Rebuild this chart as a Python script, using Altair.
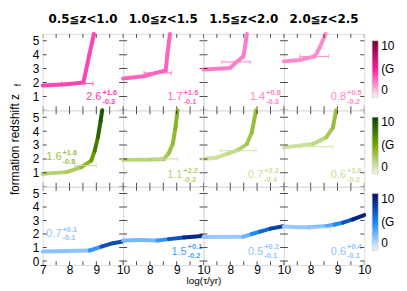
import altair as alt
import pandas as pd

# ------------------------------------------------------------------ data
col_titles = ["0.5≦z<1.0", "1.0≦z<1.5", "1.5≦z<2.0", "2.0≦z<2.5"]

# top row (pink): log(tau) , formation redshift , age (Gyr) along each curve
pink_x = [
    [7.0, 7.9, 8.52, 8.74, 8.91],
    [7.0, 7.78, 8.22, 8.59, 8.65, 8.75],
    [7.0, 8.0, 8.19, 8.49, 8.56, 8.62],
    [7.0, 7.59, 8.15, 8.33, 8.56],
]
pink_z = [
    [1.79, 1.88, 2.0, 4.0, 5.5],
    [2.29, 2.45, 2.69, 2.86, 4.0, 5.5],
    [2.93, 3.05, 3.4, 3.88, 4.7, 5.5],
    [3.52, 3.62, 3.88, 4.48, 5.5],
]
pink_age = [
    [4.0, 4.0, 4.0, 4.0, 4.0],
    [3.3, 3.3, 3.3, 3.3, 3.3, 3.3],
    [2.7, 2.7, 2.7, 2.7, 2.7, 2.7],
    [2.4, 2.4, 2.4, 2.4, 2.4],
]

# middle row (green)
green_x = [
    [7.0, 7.89, 8.44, 8.81, 8.94, 9.06, 9.16, 9.22],
    [7.0, 8.0, 8.53, 8.7, 8.85, 8.95, 9.03],
    [7.0, 7.5, 7.93, 8.3, 8.62, 8.8, 8.96],
    [7.0, 8.09, 8.58, 8.83, 8.95],
]
green_z = [
    [0.93, 1.05, 1.41, 1.88, 2.59, 3.57, 4.74, 5.5],
    [1.93, 1.95, 2.0, 2.4, 3.07, 4.2, 5.5],
    [2.0, 2.1, 2.4, 2.65, 3.07, 3.9, 5.5],
    [2.83, 3.07, 3.55, 4.26, 5.5],
]
green_age = [
    [2.5, 2.5, 3.2, 5.0, 6.5, 7.8, 8.8, 9.2],
    [2.3, 2.3, 2.6, 3.3, 3.8, 4.2, 4.4],
    [1.5, 1.5, 1.7, 2.2, 3.0, 3.6, 4.0],
    [1.5, 1.7, 2.6, 3.5, 4.0],
]

# bottom row (blue)
blue_x = [
    [7.0, 8.75, 9.19, 9.62, 9.99],
    [7.0, 7.67, 8.28, 8.7, 9.27, 9.95],
    [7.0, 8.49, 8.8, 9.11, 9.5, 9.97],
    [7.0, 7.5, 7.96, 8.6, 8.9, 9.2, 9.57, 10.0],
]
blue_z = [
    [0.71, 0.78, 1.07, 1.32, 1.44],
    [1.52, 1.56, 1.52, 1.62, 1.74, 1.85],
    [1.78, 1.8, 2.0, 2.18, 2.4, 2.57],
    [2.55, 2.5, 2.5, 2.6, 2.7, 2.84, 3.08, 3.4],
]
blue_age = [
    [2.0, 2.5, 6.0, 8.5, 6.0],
    [3.0, 2.5, 3.0, 5.5, 8.5, 9.0],
    [2.0, 2.0, 4.0, 5.5, 7.0, 8.5],
    [2.0, 2.0, 2.0, 3.0, 4.0, 5.5, 8.5, 9.5],
]

# error bars: row, col, z, low, high, age
err_row = [0, 0, 0, 0, 1, 1, 1, 1, 2]
err_col = [0, 1, 2, 3, 0, 1, 2, 3, 3]
err_z = [1.92, 2.69, 3.48, 3.88, 1.52, 2.0, 2.59, 2.88, 2.45]
err_lo = [7.7, 7.78, 7.69, 7.59, 8.2, 8.1, 7.63, 7.59, 8.0]
err_hi = [8.88, 8.8, 8.74, 8.67, 9.0, 9.03, 8.96, 8.83, 8.76]
err_age = [4.0, 3.3, 2.7, 2.4, 1.8, 1.6, 1.4, 1.4, 1.2]

# best values (Gyr) with errors
ann_main = [["2.6", "1.7", "1.4", "0.8"], ["1.6", "1.1", "0.7", "0.6"], ["0.7", "1.5", "0.5", "0.6"]]
ann_plus = [["+1.6", "+1.6", "+0.8", "+0.5"], ["+1.6", "+2.2", "+2.2", "+1.6"], ["+0.1", "+0.1", "+0.2", "+0.4"]]
ann_minus = [["-0.3", "-0.1", "-0.3", "-0.2"], ["-0.8", "-0.2", "-0.4", "-0.2"], ["-0.1", "-0.2", "-0.1", "-0.1"]]
ann_x = [[9.19, 9.22, 9.3, 9.32], [7.7, 9.21, 9.23, 9.32], [7.7, 9.37, 9.23, 9.32]]
ann_z = [[0.93, 0.93, 0.93, 0.93], [2.12, 0.81, 0.81, 0.81], [2.0, 0.69, 0.69, 0.69]]
ann_age = [[4.2, 3.3, 2.6, 2.4], [3.5, 2.5, 1.6, 1.6], [2.2, 3.8, 2.2, 2.2]]

x_ticks = [7.0, 7.5, 8.0, 8.5, 9.0, 9.5, 10.0]
y_ticks = [0, 1, 2, 3, 4, 5]
x_labels_first = [7, 8, 9, 10]
x_labels_other = [8, 9, 10]
y_labels_top = [1, 2, 3, 4, 5]
y_labels_bottom = [0, 1, 2, 3, 4, 5]
legend_values = [0, 5, 10]

# ------------------------------------------------------------------ style
FONT = "Liberation Sans"
row_x = [pink_x, green_x, blue_x]
row_z = [pink_z, green_z, blue_z]
row_age = [pink_age, green_age, blue_age]
row_colors = [
    ["#fff2f9", "#ff1a9c", "#780030"],
    ["#f3f8e4", "#78aa00", "#034203"],
    ["#eef6ff", "#1484ff", "#000c5c"],
]
row_domain = [[0, 5.5], [0, 5.5], [-0.3, 5.5]]
row_height = [77, 77, 79]
PW = 81


def panel(r, c):
    xs, zs, ag = row_x[r][c], row_z[r][c], row_age[r][c]
    seg = pd.DataFrame({
        "x": xs[:-1], "x2": xs[1:], "y": zs[:-1], "y2": zs[1:],
        "c": [(a + b) / 2 for a, b in zip(ag[:-1], ag[1:])],
    })
    xsc = alt.Scale(domain=[7, 10], nice=False, zero=False)
    ysc = alt.Scale(domain=row_domain[r], nice=False, zero=False)
    ssc = alt.Scale(domain=[0, 5, 10], range=row_colors[r], interpolate="rgb")
    # same colours for filled marks (separate domain so its legend stays off)
    fsc = alt.Scale(domain=[0, 5, 10, 20], range=row_colors[r] + [row_colors[r][2]],
                    interpolate="rgb")

    if r == 2:
        xaxis = alt.Axis(values=x_labels_first if c == 0 else x_labels_other,
                         ticks=False, domain=False, grid=False, labelFontSize=12,
                         labelFont=FONT, labelPadding=-1, labelFlush=False,
                         labelColor="black",
                         title="log(τ/yr)" if c == 1 else None,
                         titleFont=FONT, titleFontSize=10, titleFontWeight="normal",
                         titleX=PW, titleY=19, titleAlign="center",
                         titleBaseline="alphabetic")
    else:
        xaxis = None
    if c == 0:
        yaxis = alt.Axis(values=y_labels_bottom if r == 2 else y_labels_top,
                         ticks=False, domain=False, grid=False, labelFontSize=12,
                         labelFont=FONT, labelPadding=4, labelFlush=False,
                         labelColor="black",
                         title="formation redshift z" if r == 1 else None,
                         titleFont=FONT, titleFontSize=12, titleFontWeight="normal",
                         titleX=-24, titleY=34, titleAngle=270, titleAlign="center",
                         titleBaseline="alphabetic")
    else:
        yaxis = None
    legend = None
    if c == 3:
        legend = alt.Legend(type="gradient", orient="none", legendX=PW + 8, legendY=7,
                            title=None, direction="vertical", gradientLength=57,
                            gradientThickness=6, values=legend_values,
                            labelExpr="datum.value == 5 ? '(Gyr)' : datum.label",
                            labelFontSize=12, labelFont=FONT, labelColor="black",
                            labelOffset=3, labelLimit=17, labelOverlap=False,
                            gradientStrokeColor="#bbbbbb", gradientStrokeWidth=0.5)

    X = lambda f: alt.X(f, scale=xsc, axis=xaxis)
    Y = lambda f: alt.Y(f, scale=ysc, axis=yaxis)
    S = alt.Stroke("c:Q", scale=ssc, legend=legend)
    F = alt.Fill("c:Q", scale=fsc, legend=None)

    line = alt.Chart(seg).mark_rule(strokeWidth=4, strokeCap="round").encode(
        x=X("x:Q"), x2="x2:Q", y=Y("y:Q"), y2="y2:Q", stroke=S)
    layers = [line]

    idx = [i for i in range(len(err_row)) if err_row[i] == r and err_col[i] == c]
    if idx:
        e = pd.DataFrame({"lo": [err_lo[i] for i in idx], "hi": [err_hi[i] for i in idx],
                          "y": [err_z[i] for i in idx], "c": [err_age[i] for i in idx]})
        bar = alt.Chart(e).mark_rule(strokeWidth=1).encode(
            x=X("lo:Q"), x2="hi:Q", y=Y("y:Q"), stroke=S)
        caps = pd.DataFrame({"x": list(e["lo"]) + list(e["hi"]),
                             "y": list(e["y"]) * 2, "c": list(e["c"]) * 2})
        cap = alt.Chart(caps).mark_tick(orient="vertical", size=5, thickness=1).encode(
            x=X("x:Q"), y=Y("y:Q"), fill=F)
        layers += [bar, cap]

    a = pd.DataFrame({"x": [ann_x[r][c]], "y": [ann_z[r][c]], "c": [ann_age[r][c]],
                      "m": [ann_main[r][c]], "p": [ann_plus[r][c]], "n": [ann_minus[r][c]]})
    base = alt.Chart(a)
    layers.append(base.mark_text(align="right", baseline="middle", fontSize=11, font=FONT)
                  .encode(x=X("x:Q"), y=Y("y:Q"), text="m:N", fill=F))
    layers.append(base.mark_text(align="left", baseline="middle", fontSize=7.5, font=FONT,
                                 fontWeight="bold", dx=1, dy=-4.5)
                  .encode(x=X("x:Q"), y=Y("y:Q"), text="p:N", fill=F))
    layers.append(base.mark_text(align="left", baseline="middle", fontSize=7.5, font=FONT,
                                 fontWeight="bold", dx=1, dy=4.5)
                  .encode(x=X("x:Q"), y=Y("y:Q"), text="n:N", fill=F))

    lo, hi = row_domain[r]
    yt = [v for v in y_ticks if lo <= v <= hi]
    tx = pd.DataFrame({"x": x_ticks * 2, "y": [lo] * len(x_ticks) + [hi] * len(x_ticks)})
    ty = pd.DataFrame({"x": [7.0] * len(yt) + [10.0] * len(yt), "y": yt * 2})
    layers.append(alt.Chart(tx).mark_tick(orient="vertical", size=8, thickness=1,
                                          color="black", clip=True)
                  .encode(x=X("x:Q"), y=Y("y:Q")))
    layers.append(alt.Chart(ty).mark_tick(orient="horizontal", size=8, thickness=1,
                                          color="black", clip=True)
                  .encode(x=X("x:Q"), y=Y("y:Q")))

    if r == 0 and c == 0:
        f = pd.DataFrame({"x": [6.19], "y": [1.82], "t": ["f"]})
        layers.append(alt.Chart(f).mark_text(angle=270, fontSize=8.5, font=FONT,
                                             baseline="alphabetic", align="center",
                                             fill="black", clip=False)
                      .encode(x=X("x:Q"), y=Y("y:Q"), text="t:N"))

    ch = alt.layer(*layers).properties(width=PW, height=row_height[r])
    if r == 0:
        ch = ch.properties(title=alt.TitleParams(col_titles[c], font="DejaVu Sans",
                                                 fontSize=12, fontWeight="bold",
                                                 offset=6, color="black"))
    return ch


panels = [panel(r, c) for r in range(3) for c in range(4)]
chart = alt.concat(*panels, columns=4, spacing=0, bounds="flush").resolve_scale(
    stroke="independent", fill="independent"
).configure_view(stroke="black", strokeWidth=2).configure(
    font=FONT, padding={"left": 0, "top": 3, "right": 0, "bottom": 0},
    style={"guide-label": {"ellipsis": " "}}
)

chart.save("out.html", embed_options={"renderer": "svg", "actions": False})
